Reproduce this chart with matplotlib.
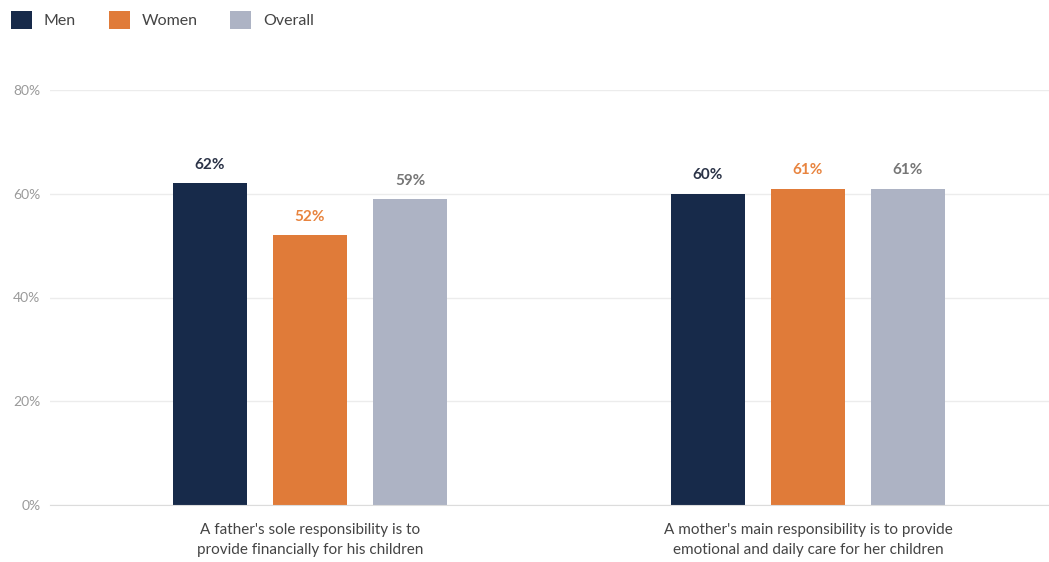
import numpy as np
import matplotlib.pyplot as plt
from matplotlib.patches import Patch

statements = [
    "A father's sole responsibility is to\nprovide financially for his children",
    "A mother's main responsibility is to provide\nemotional and daily care for her children",
]
series = ["Men", "Women", "Overall"]
men = [62, 60]
women = [52, 61]
overall = [59, 61]

bar_colors = ["#172a4a", "#e07b39", "#adb3c4"]
label_colors = ["#2b3347", "#e8843f", "#767676"]

plt.rcParams["font.family"] = ["Lato", "DejaVu Sans"]

fig = plt.figure(figsize=(10.49, 5.62), dpi=100)
ax = fig.add_axes([50 / 1049, 57 / 562, 999 / 1049, 415 / 562])

x = np.arange(len(statements))
step = 0.2008
width = 0.1486
for i, (name, vals) in enumerate(zip(series, [men, women, overall])):
    pos = x + (i - 1) * step
    ax.bar(pos, vals, width=width, color=bar_colors[i], zorder=3)
    for px, v in zip(pos, vals):
        ax.text(px, v + 2.2, f"{v}%", ha="center", va="bottom",
                fontsize=11, fontweight="bold", color=label_colors[i])

ax.set_xlim(-0.522, 1.484)
ax.set_ylim(0, 80)
ax.set_yticks([0, 20, 40, 60, 80])
ax.set_yticklabels([f"{t}%" for t in [0, 20, 40, 60, 80]])
ax.tick_params(axis="y", length=0, pad=7, labelsize=10, labelcolor="#9a9a9a")
ax.tick_params(axis="x", length=0, pad=13, labelsize=11, labelcolor="#444444")
ax.set_xticks(x)
ax.set_xticklabels(statements, linespacing=1.55)
ax.grid(axis="y", color="#ececec", linewidth=1, zorder=0)
for s in ["top", "right", "left"]:
    ax.spines[s].set_visible(False)
ax.spines["bottom"].set_color("#dcdcdc")
ax.spines["bottom"].set_zorder(4)

handles = [Patch(facecolor=c, edgecolor="none") for c in bar_colors]
fig.legend(handles, series, loc="upper left", bbox_to_anchor=(0.0, 1.0),
           ncol=3, frameon=False, fontsize=11.5, handlelength=1.3,
           handleheight=1.3, columnspacing=2.05, handletextpad=0.75,
           borderpad=0.5, borderaxespad=0.2, labelcolor="#444444")

fig.savefig("out.png", dpi=100, facecolor="white")
